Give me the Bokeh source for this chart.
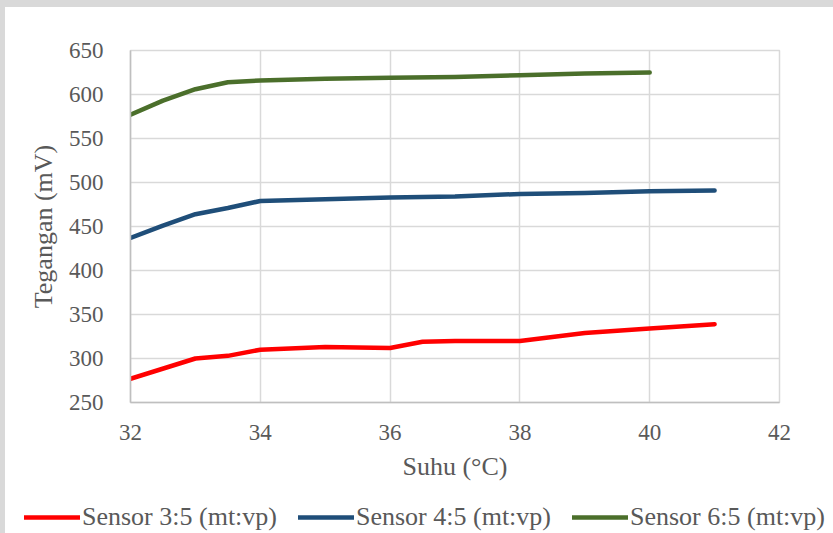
from bokeh.plotting import figure
from bokeh.models import Legend, LegendItem, FixedTicker, Range1d
from bokeh.layouts import column
from bokeh.embed import file_html
from bokeh.resources import INLINE

# Data
suhu_s3 = [32, 33, 33.5, 34, 35, 36, 36.5, 37, 38, 39, 40, 41]
tegangan_s3 = [277, 300, 303, 310, 313, 312, 319, 320, 320, 329, 334, 339]

suhu_s4 = [32, 32.5, 33, 33.5, 34, 35, 36, 37, 38, 39, 40, 41]
tegangan_s4 = [437, 451, 464, 471, 479, 481, 483, 484, 487, 488, 490, 491]

suhu_s6 = [32, 32.5, 33, 33.5, 34, 35, 36, 37, 38, 39, 40]
tegangan_s6 = [577, 593, 606, 614, 616, 618, 619, 620, 622, 624, 625]

series_names = ["Sensor 3:5 (mt:vp)", "Sensor 4:5 (mt:vp)", "Sensor 6:5 (mt:vp)"]
series_colors = ["#ff0000", "#1f4e79", "#4b6f2b"]

x_ticks = [32, 34, 36, 38, 40, 42]
y_ticks = [250, 300, 350, 400, 450, 500, 550, 600, 650]

FONT = "Liberation Serif"
TXT = "#595959"
LW = 4.5

p = figure(width=828, height=480, output_backend="svg", toolbar_location=None,
           x_range=Range1d(32, 42), y_range=Range1d(250, 650),
           min_border_left=125, min_border_right=54, min_border_top=43, min_border_bottom=85)
p.frame_align = False
p.background_fill_color = "white"
p.border_fill_color = "white"
p.outline_line_color = "#d9d9d9"
p.outline_line_width = 1.5

p.axis.major_label_text_font = FONT
p.axis.major_label_text_font_size = "23px"
p.axis.major_label_text_color = TXT
p.axis.axis_label_text_font = FONT
p.axis.axis_label_text_font_size = "26px"
p.axis.axis_label_text_font_style = "normal"
p.axis.axis_label_text_color = TXT
p.axis.major_tick_line_color = None
p.axis.minor_tick_line_color = None
p.axis.axis_line_color = "#bfbfbf"
p.axis.axis_line_width = 1.5

p.xaxis.ticker = FixedTicker(ticks=x_ticks)
p.yaxis.ticker = FixedTicker(ticks=y_ticks)
p.xaxis.axis_label = "Suhu (°C)"
p.yaxis.axis_label = "Tegangan (mV)"
p.xaxis.major_label_standoff = 16
p.yaxis.major_label_standoff = 21
p.xaxis.axis_label_standoff = 9
p.yaxis.axis_label_standoff = 8

p.xgrid.ticker = FixedTicker(ticks=x_ticks)
p.ygrid.ticker = FixedTicker(ticks=y_ticks)
p.grid.grid_line_color = "#d9d9d9"
p.grid.grid_line_width = 1.5

series = [(suhu_s3, tegangan_s3), (suhu_s4, tegangan_s4), (suhu_s6, tegangan_s6)]
for (xs, ys), c in zip(series, series_colors):
    p.line(xs, ys, line_color=c, line_width=LW, line_cap="round", line_join="round")

# Legend strip below the chart (its frame spans the whole strip)
lg = figure(width=828, height=46, output_backend="svg", toolbar_location=None,
            x_range=Range1d(0, 1), y_range=Range1d(0, 1),
            x_axis_type=None, y_axis_type=None,
            min_border_left=0, min_border_right=0, min_border_top=0, min_border_bottom=0)
lg.frame_align = False
lg.grid.visible = False
lg.outline_line_color = None
lg.background_fill_color = "white"
lg.border_fill_color = "white"

items = []
for (xs, ys), name, c in zip(series, series_names, series_colors):
    # same series, outside this strip's ranges: only the legend glyph shows
    r = lg.line(xs, ys, line_color=c, line_width=LW, line_cap="round")
    items.append(LegendItem(label=name, renderers=[r]))

legend = Legend(items=items, orientation="horizontal", location=(19, 1),
                label_text_font=FONT, label_text_font_size="26px", label_text_color=TXT,
                glyph_width=56, glyph_height=26, label_standoff=2, spacing=21,
                padding=0, margin=0, border_line_color=None, background_fill_alpha=0)
lg.add_layout(legend, "center")

page = column(p, lg, spacing=0,
              styles={"background-color": "white",
                      "border-top": "7px solid #d9d9d9",
                      "border-left": "5px solid #d9d9d9"})

open("out.html", "w").write(file_html(page, INLINE))
